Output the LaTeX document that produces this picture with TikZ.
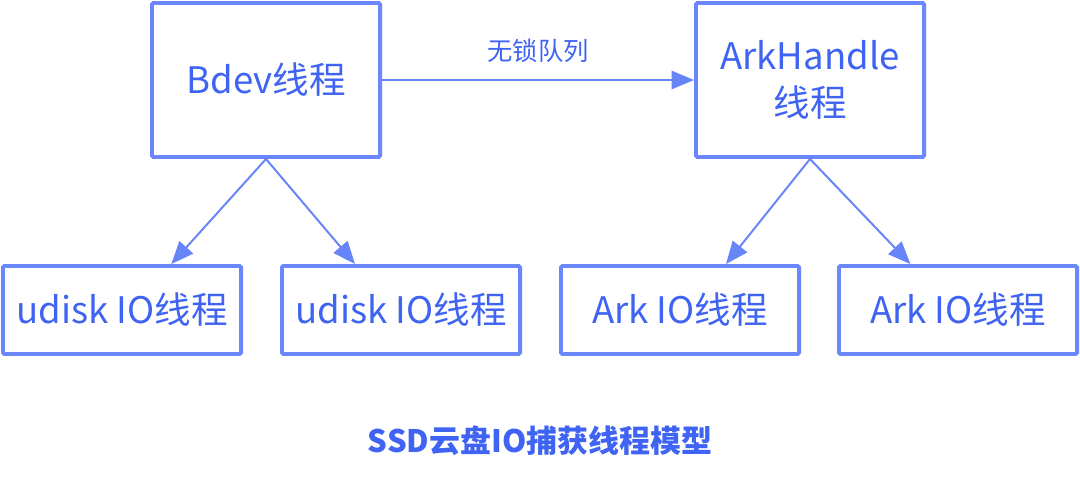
\documentclass[tikz,border=0pt]{standalone}
\usepackage{fontspec}
\setmainfont{Noto Sans CJK SC}
\usetikzlibrary{arrows.meta, positioning}
\definecolor{cline}{HTML}{6A88FB}
\definecolor{ctext}{HTML}{3F63F2}
\definecolor{carrow}{HTML}{6784F8}
\tikzset{
  every picture/.style={line width=1.4pt},
  box/.style={draw=cline, line width=2.8pt, fill=white, align=center, text=ctext, rounded corners=1pt},
  arrow/.style={-{Triangle[length=16pt, width=13pt]}, draw=carrow, fill=carrow, line width=1.4pt},
  title/.style={font=\bfseries\fontsize{22}{26}\selectfont, text=ctext},
  note/.style={font=\fontsize{18}{22}\selectfont, text=ctext},
}

\begin{document}
\begin{tikzpicture}[x=0.025cm, y=-0.025cm,
  thread/.style={box, minimum width=5.7cm, minimum height=3.85cm, font=\fontsize{26}{33}\selectfont},
  worker/.style={box, minimum width=5.95cm, minimum height=2.2cm, font=\fontsize{26}{30}\selectfont}]
  \useasboundingbox (0,0) rectangle (1080,476);
  \node[thread] (bdev) at (266,80) {Bdev线程};
  \node[thread] (ark) at (810,80) {ArkHandle\\线程};
  \node[worker] (udisk1) at (122,310) {udisk IO线程};
  \node[worker] (udisk2) at (401,310) {udisk IO线程};
  \node[worker] (arkio1) at (680,310) {Ark IO线程};
  \node[worker] (arkio2) at (958,310) {Ark IO线程};
  \draw[arrow] (bdev) -- node[above=0.3cm, note] {无锁队列} (ark);
  \draw[arrow] (bdev.south) -- (udisk1.43);
  \draw[arrow] (bdev.south) -- (udisk2.135);
  \draw[arrow] (ark.south) -- (arkio1.45);
  \draw[arrow] (ark.south) -- (arkio2.136);
  \node[title] (caption) at (540,441) {SSD云盘IO捕获线程模型};
\end{tikzpicture}
\end{document}
